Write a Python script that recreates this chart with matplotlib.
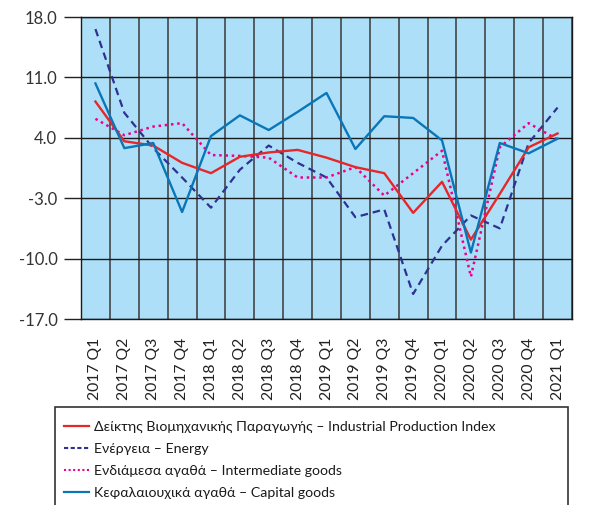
import matplotlib
matplotlib.use("Agg")
import matplotlib.pyplot as plt
import numpy as np
from matplotlib.patches import Rectangle
from matplotlib.lines import Line2D

categories = ["2017 Q1", "2017 Q2", "2017 Q3", "2017 Q4",
              "2018 Q1", "2018 Q2", "2018 Q3", "2018 Q4",
              "2019 Q1", "2019 Q2", "2019 Q3", "2019 Q4",
              "2020 Q1", "2020 Q2", "2020 Q3", "2020 Q4", "2021 Q1"]

ipi = [8.2, 3.6, 3.1, 1.1, -0.1, 1.8, 2.3, 2.6, 1.7, 0.6, -0.1, -4.7, -1.1, -7.8, -2.5, 2.9, 4.5]
energy = [16.6, 6.9, 2.8, -0.6, -4.1, 0.3, 3.1, 1.1, -0.6, -5.2, -4.3, -14.1, -8.5, -5.0, -6.5, 3.4, 7.5]
intermediate = [6.2, 4.3, 5.3, 5.7, 2.0, 1.9, 1.7, -0.6, -0.6, 0.6, -2.7, -0.1, 2.5, -12.1, 2.9, 5.7, 3.8]
capital = [10.3, 2.8, 3.4, -4.6, 4.2, 6.6, 4.9, 7.0, 9.2, 2.7, 6.5, 6.3, 3.7, -9.3, 3.4, 2.2, 3.9]

yticks = [18.0, 11.0, 4.0, -3.0, -10.0, -17.0]

labels = ["Δείκτης Βιομηχανικής Παραγωγής – Industrial Production Index",
          "Ενέργεια – Energy",
          "Ενδιάμεσα αγαθά – Intermediate goods",
          "Κεφαλαιουχικά αγαθά – Capital goods"]

plt.rcParams['font.family'] = ['Lato', 'DejaVu Sans']

W, H = 596, 505
fig = plt.figure(figsize=(W / 100, H / 100), dpi=100)
ax = fig.add_axes([81 / W, 1 - 319 / H, (572 - 81) / W, (319 - 17) / H])
ax.set_facecolor("#ADE0F8")

x = np.arange(len(categories))
ax.plot(x, ipi, color="#E8262A", lw=1.7, zorder=5)
ax.plot(x, energy, color="#2E3192", lw=1.6, dashes=(3.4, 2.2), zorder=4)
ax.plot(x, intermediate, color="#EC008C", lw=1.8, dashes=(1, 1.5), zorder=4)
ax.plot(x, capital, color="#0A76B8", lw=1.7, zorder=5)

ax.set_xlim(-0.5, len(categories) - 0.5)
ax.set_ylim(-17, 18)
ax.set_yticks(yticks)
ax.set_yticklabels([f"{v:.1f}" for v in yticks], fontsize=12, color="#333333")
ax.set_xticks(x)
ax.set_xticklabels(categories, rotation=90, fontsize=11.3, color="#222222")
ax.set_xticks(np.arange(-0.5, len(categories), 1), minor=True)
ax.tick_params(axis="x", which="major", length=0, pad=13.5)
ax.tick_params(axis="x", which="minor", length=0)
ax.tick_params(axis="y", length=12, width=1, color="#222222", pad=5)
ax.grid(axis="y", which="major", color="#1a1a1a", lw=1)
ax.grid(axis="x", which="minor", color="#3a3a3a", lw=1.1)
ax.set_axisbelow(True)
for s in ax.spines.values():
    s.set_color("#1a1a1a")
    s.set_linewidth(1)

# legend box
rect = Rectangle((55 / W, -0.05), (568 - 55) / W, (1 - 407 / H) + 0.05,
                 transform=fig.transFigure, fill=False, edgecolor="#333333", lw=1.2)
fig.patches.append(rect)
handles = [Line2D([], [], color="#E8262A", lw=1.6),
           Line2D([], [], color="#2E3192", lw=1.5, dashes=(2, 1.2)),
           Line2D([], [], color="#EC008C", lw=1.5, dashes=(1, 1.2)),
           Line2D([], [], color="#0A76B8", lw=1.6)]
fig.legend(handles, labels, loc="upper left", bbox_to_anchor=(64 / W, 1 - 421 / H),
           frameon=False, fontsize=10.2, handlelength=1.75, handletextpad=0.35,
           labelspacing=0.7, borderaxespad=0, borderpad=0, labelcolor="#1a1a1a")

fig.savefig("out.png", dpi=100)
